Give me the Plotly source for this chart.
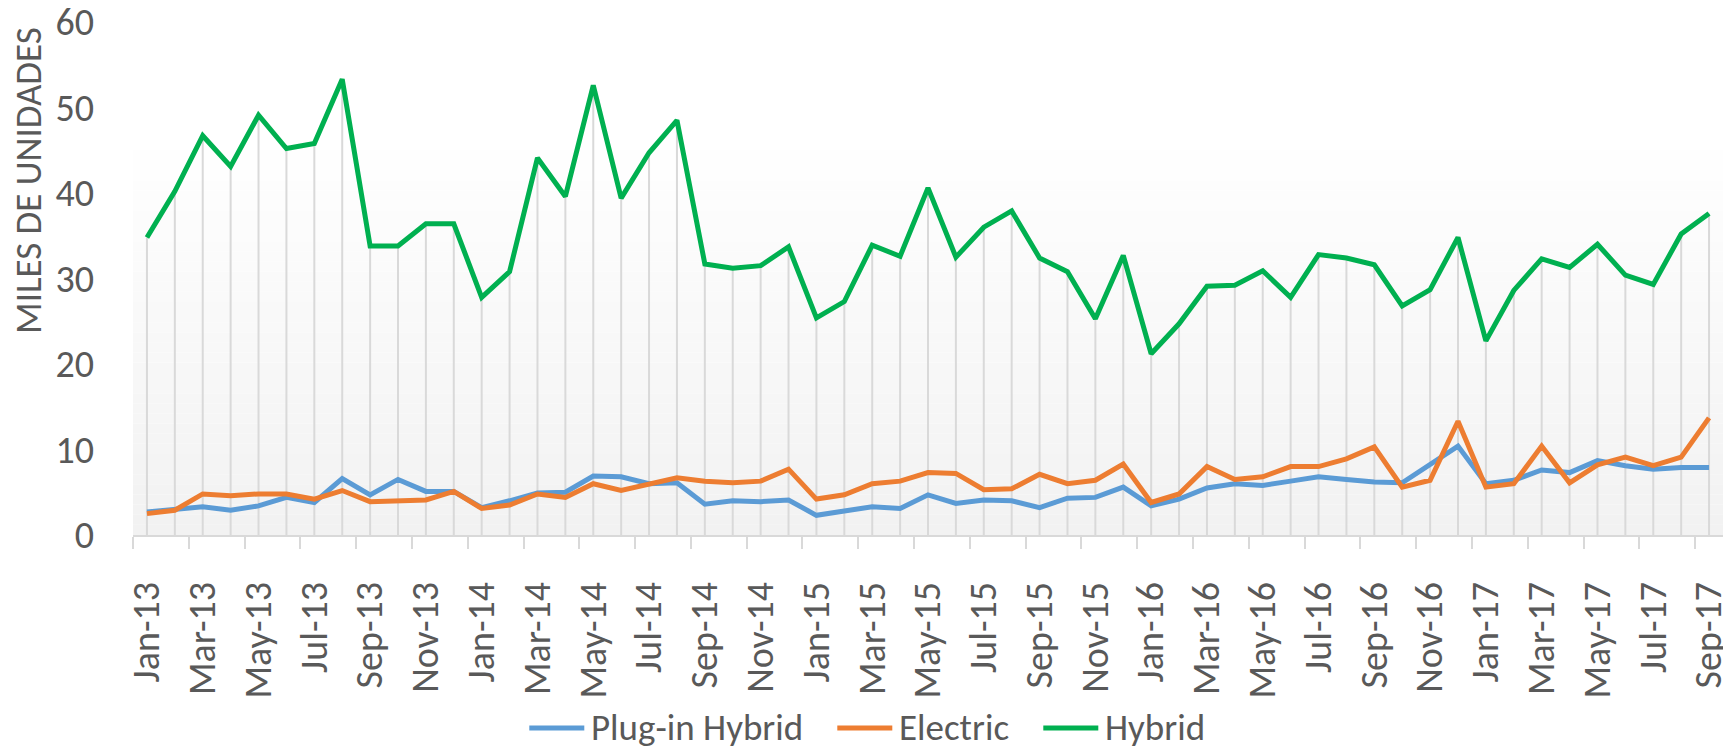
import plotly.graph_objects as go

months = ["Jan-13","Feb-13","Mar-13","Apr-13","May-13","Jun-13","Jul-13","Aug-13","Sep-13","Oct-13","Nov-13","Dec-13",
          "Jan-14","Feb-14","Mar-14","Apr-14","May-14","Jun-14","Jul-14","Aug-14","Sep-14","Oct-14","Nov-14","Dec-14",
          "Jan-15","Feb-15","Mar-15","Apr-15","May-15","Jun-15","Jul-15","Aug-15","Sep-15","Oct-15","Nov-15","Dec-15",
          "Jan-16","Feb-16","Mar-16","Apr-16","May-16","Jun-16","Jul-16","Aug-16","Sep-16","Oct-16","Nov-16","Dec-16",
          "Jan-17","Feb-17","Mar-17","Apr-17","May-17","Jun-17","Jul-17","Aug-17","Sep-17"]

plugin_hybrid = [2.7,3.0,3.3,2.9,3.4,4.4,3.8,6.6,4.7,6.5,5.1,5.1,
                 3.2,4.0,4.9,5.0,6.9,6.8,6.0,6.1,3.6,4.0,3.9,4.1,
                 2.3,2.8,3.3,3.1,4.7,3.7,4.1,4.0,3.2,4.3,4.4,5.6,
                 3.4,4.2,5.5,6.0,5.8,6.3,6.8,6.5,6.2,6.1,8.2,10.4,
                 6.0,6.4,7.6,7.3,8.7,8.1,7.7,7.9,7.9]

electric = [2.5,2.9,4.8,4.6,4.8,4.8,4.2,5.2,3.9,4.0,4.1,5.1,
            3.1,3.5,4.8,4.4,6.0,5.2,5.9,6.7,6.3,6.1,6.3,7.7,
            4.2,4.7,6.0,6.3,7.3,7.2,5.3,5.4,7.1,6.0,6.4,8.3,
            3.8,4.8,8.0,6.5,6.8,8.0,8.0,8.9,10.3,5.6,6.4,13.3,
            5.6,6.0,10.4,6.1,8.2,9.1,8.1,9.1,13.7]

hybrid = [34.8,40.2,46.7,43.1,49.1,45.2,45.8,53.3,33.8,33.8,36.4,36.4,
          27.8,30.8,44.1,39.6,52.6,39.4,44.7,48.5,31.7,31.2,31.5,33.7,
          25.4,27.3,33.9,32.6,40.6,32.5,36.0,37.9,32.4,30.8,25.3,32.7,
          21.2,24.7,29.1,29.2,30.9,27.8,32.8,32.4,31.6,26.8,28.7,34.8,
          22.7,28.6,32.3,31.3,34.0,30.4,29.3,35.2,37.6]

series_names = ["Plug-in Hybrid", "Electric", "Hybrid"]
series_colors = ["#5B9BD5", "#ED7D31", "#00B050"]
y_ticks = [0, 10, 20, 30, 40, 50, 60]

xs = list(range(len(months)))
FONT = "Carlito, Calibri, Lato, sans-serif"
TXT = "#595959"

# figure is placed by the page at an 8px body offset
W, H = 1723, 741
L, R, T, B = 124.7, 8.3, 13.7, 214
PW, PH = W - L - R, H - T - B

fig = go.Figure()

# drop lines from the highest series down to the axis
dx, dy = [], []
for xi, hv in zip(xs, hybrid):
    dx += [xi, xi, None]
    dy += [0, hv, None]
fig.add_trace(go.Scatter(x=dx, y=dy, mode="lines", line=dict(color="#d9d9d9", width=2),
                         showlegend=False, hoverinfo="skip"))

for name, vals, col in zip(series_names, [plugin_hybrid, electric, hybrid], series_colors):
    fig.add_trace(go.Scatter(x=xs, y=vals, mode="lines", name=name,
                             line=dict(color=col, width=5), showlegend=False))

# gradient background of plot area
shapes = []
n = 40
top = 47.4
for i in range(n):
    t = i / (n - 1)
    c = int(round(242 + (255 - 242) * t))
    shapes.append(dict(type="rect", xref="x domain", yref="y", x0=0, x1=1,
                       y0=top * i / n, y1=top * (i + 1) / n,
                       fillcolor=f"rgb({c},{c},{c})", line=dict(width=0), layer="below"))

# legend drawn as line samples + text (figure pixel positions)
def px_x(v):
    return (v - L) / PW

def px_y(v):
    return (H - B - v) / PH

legend_y = 720
legend_items = [(521, 576, 581), (829, 884, 889), (1035, 1090, 1095)]
annotations = []
for (x0, x1, xt), name, col in zip(legend_items, series_names, series_colors):
    shapes.append(dict(type="line", xref="paper", yref="paper",
                       x0=px_x(x0), x1=px_x(x1), y0=px_y(legend_y), y1=px_y(legend_y),
                       line=dict(color=col, width=5), layer="above"))
    annotations.append(dict(text=name, xref="paper", yref="paper", x=px_x(xt), y=px_y(legend_y),
                            xanchor="left", yanchor="middle", showarrow=False,
                            font=dict(size=37, color=TXT, family=FONT)))

annotations.append(dict(text="MILES DE UNIDADES", xref="paper", yref="paper",
                        x=px_x(20), y=px_y(172.5), xanchor="center", yanchor="middle",
                        textangle=-90, showarrow=False,
                        font=dict(size=37, color=TXT, family=FONT)))

fig.update_layout(
    width=W, height=H,
    margin=dict(l=L, r=R, t=T, b=B, autoexpand=False),
    paper_bgcolor="white", plot_bgcolor="white",
    font=dict(family=FONT, color=TXT, size=38),
    shapes=shapes,
    showlegend=False,
    annotations=annotations,
)

fig.update_xaxes(
    range=[-0.5, 56.5], tickmode="array", tickvals=xs[::2], ticktext=months[::2],
    tickangle=-90, ticks="", showgrid=False, zeroline=False, automargin=False,
    showline=True, linecolor="#d9d9d9", linewidth=1.5, ticklabeloverflow="allow",
    tickfont=dict(size=38, color=TXT), ticklabelstandoff=30,
    minor=dict(tickmode="array", tickvals=[v - 0.5 for v in xs[::2]],
               ticks="outside", ticklen=12, tickcolor="#d9d9d9", tickwidth=1.5, showgrid=False),
)
fig.update_yaxes(
    range=[0, 60], tickmode="array", tickvals=y_ticks, showgrid=False, zeroline=False,
    showline=False, ticks="", automargin=False, ticklabeloverflow="allow",
    tickfont=dict(size=38, color=TXT), ticklabelstandoff=38,
)

fig.write_html("out.html")
